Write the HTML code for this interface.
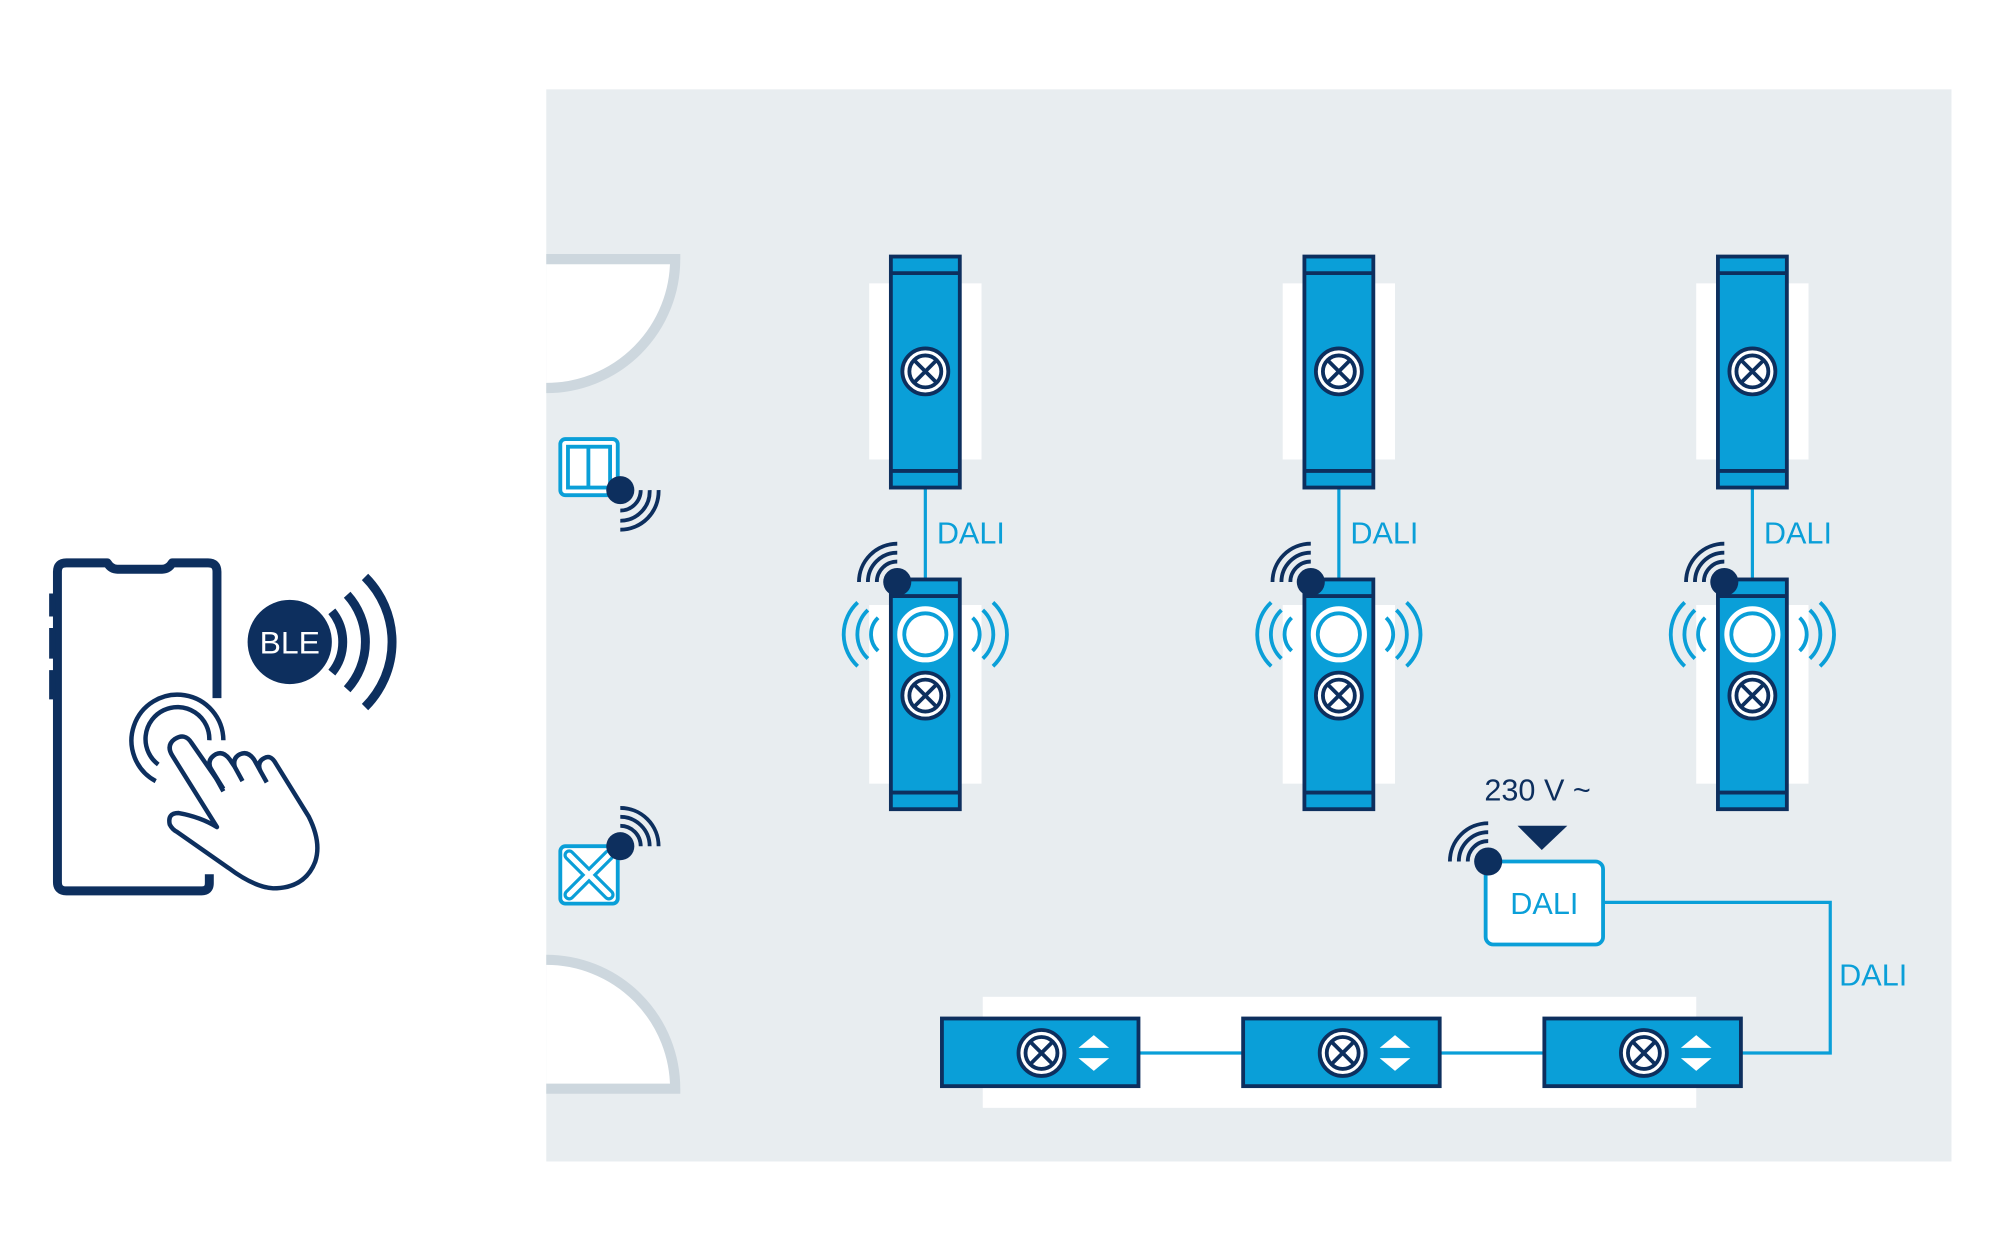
<!DOCTYPE html>
<html><head><meta charset="utf-8"><style>html,body{margin:0;padding:0;background:#fff}svg{display:block}</style></head>
<body>
<svg width="2000" height="1250" viewBox="0 0 1567 979" preserveAspectRatio="xMinYMin meet" xmlns="http://www.w3.org/2000/svg" font-family="Liberation Sans, sans-serif">
<defs>
<g id="cx"><circle r="18" fill="#fff" stroke="#0d2f5e" stroke-width="3"/><circle r="12.5" fill="none" stroke="#0d2f5e" stroke-width="3"/><path d="M-8.5,-8.5L8.5,8.5M8.5,-8.5L-8.5,8.5" stroke="#0d2f5e" stroke-width="3"/></g>
<g id="lum"><rect x="-44" y="21" width="88" height="138" fill="#fff"/><rect x="-27" y="0" width="54" height="181" fill="#0a9fd8" stroke="#0d2f5e" stroke-width="3"/><path d="M-27,13H27M-27,168H27" stroke="#0d2f5e" stroke-width="3"/><use href="#cx" x="0" y="90"/></g>
<g id="sen"><rect x="-44" y="20" width="88" height="140" fill="#fff"/><rect x="-27" y="0" width="54" height="180" fill="#0a9fd8" stroke="#0d2f5e" stroke-width="3"/><path d="M-27,13H27M-27,167H27" stroke="#0d2f5e" stroke-width="3"/>
<circle cx="0" cy="43" r="20" fill="none" stroke="#fff" stroke-width="4"/><circle cx="0" cy="43" r="15" fill="#fff"/><use href="#cx" x="0" y="91"/>
<g fill="none" stroke="#0a9fd8" stroke-width="3"><path d="M-37,30A18,18 0 0 0 -37,56M-45,24A26,26 0 0 0 -45,62M-53,18A34,34 0 0 0 -53,68"/><path d="M37,30A18,18 0 0 1 37,56M45,24A26,26 0 0 1 45,62M53,18A34,34 0 0 1 53,68"/></g>
<circle cx="-22" cy="2" r="11" fill="#0d2f5e"/><g fill="none" stroke="#0d2f5e" stroke-width="3"><path d="M-38,2A16,16 0 0 1 -22,-14M-45,2A23,23 0 0 1 -22,-21M-52,2A30,30 0 0 1 -22,-28"/></g></g>
<g id="hl"><rect x="0" y="0" width="154" height="53" fill="#0a9fd8" stroke="#0d2f5e" stroke-width="3"/><use href="#cx" x="78" y="27"/><path d="M107,23L119,13L131,23ZM107,31L131,31L119,41Z" fill="#fff"/></g>
</defs>
<rect x="428" y="70" width="1101" height="840" fill="#e8edf0"/>
<path d="M428,203H529A101,101 0 0 1 428,304Z" fill="#fff"/>
<path d="M428,203H529A101,101 0 0 1 428,304" fill="none" stroke="#cdd7de" stroke-width="8"/>
<path d="M428,752A101,101 0 0 1 529,853H428Z" fill="#fff"/>
<path d="M428,752A101,101 0 0 1 529,853H428" fill="none" stroke="#cdd7de" stroke-width="8"/>
<rect x="439" y="344" width="45" height="44" rx="4" fill="#fff" stroke="#0a9fd8" stroke-width="3"/><rect x="445" y="350" width="33" height="32" fill="none" stroke="#0a9fd8" stroke-width="3"/><path d="M461,350V382" stroke="#0a9fd8" stroke-width="3"/>
<circle cx="486" cy="384" r="11" fill="#0d2f5e"/><g fill="none" stroke="#0d2f5e" stroke-width="3"><path d="M486,400A16,16 0 0 0 502,384M486,408A23,23 0 0 0 509,384M486,415A30,30 0 0 0 516,384"/></g>
<rect x="439" y="663" width="45" height="45" rx="4" fill="#fff" stroke="#0a9fd8" stroke-width="3"/><path d="M446,670L477,701M477,670L446,701" stroke="#0a9fd8" stroke-width="9" stroke-linecap="round"/><path d="M446,670L477,701M477,670L446,701" stroke="#fff" stroke-width="4" stroke-linecap="round"/>
<circle cx="486" cy="663" r="11" fill="#0d2f5e"/><g fill="none" stroke="#0d2f5e" stroke-width="3"><path d="M486,647A16,16 0 0 1 502,663M486,640A23,23 0 0 1 509,663M486,633A30,30 0 0 1 516,663"/></g>
<g stroke="#0a9fd8" stroke-width="2.5"><path d="M725,382V454M1049,382V454M1373,382V454"/></g>
<g fill="#0a9fd8" font-size="24"><text x="734" y="426">DALI</text><text x="1058" y="426">DALI</text><text x="1382" y="426">DALI</text></g>
<use href="#lum" x="725" y="201"/><use href="#lum" x="1049" y="201"/><use href="#lum" x="1373" y="201"/>
<use href="#sen" x="725" y="454"/><use href="#sen" x="1049" y="454"/><use href="#sen" x="1373" y="454"/>
<text x="1163" y="627" font-size="24" fill="#0d2f5e">230 V ~</text>
<path d="M1189,647H1228L1208,666Z" fill="#0d2f5e"/>
<path d="M1256,707H1434V825H1365" fill="none" stroke="#0a9fd8" stroke-width="2.5"/>
<text x="1441" y="772" font-size="24" fill="#0a9fd8">DALI</text>
<rect x="1164" y="675" width="92" height="65" rx="6" fill="#fff" stroke="#0a9fd8" stroke-width="3"/>
<text x="1210" y="716" font-size="24" fill="#0a9fd8" text-anchor="middle">DALI</text>
<circle cx="1166" cy="675" r="11" fill="#0d2f5e"/><g fill="none" stroke="#0d2f5e" stroke-width="3"><path d="M1150,675A16,16 0 0 1 1166,659M1143,675A23,23 0 0 1 1166,652M1136,675A30,30 0 0 1 1166,645"/></g>
<rect x="770" y="781" width="559" height="87" fill="#fff"/>
<path d="M892,825H974M1128,825H1210" stroke="#0a9fd8" stroke-width="2.5"/>
<use href="#hl" x="738" y="798"/><use href="#hl" x="974" y="798"/><use href="#hl" x="1210" y="798"/>
<path d="M164,685V692Q164,698 158,698H52Q45,698 45,691V448Q45,441 52,441H84Q87,446 92,446H127Q132,446 135,441H163Q170,441 170,448V547" fill="none" stroke="#0d2f5e" stroke-width="7" stroke-linejoin="round"/>
<path d="M41,465V483M41,492V516M41,525V548" stroke="#0d2f5e" stroke-width="5"/>
<g fill="none" stroke="#0d2f5e" stroke-width="3.5">
<path d="M122,612A36,36 0 1 1 175,580"/>
<path d="M124,599A25,25 0 1 1 164,580"/>
</g>
<g transform="translate(4,20)">
<path d="M171,598L146,562Q141,554 133,559Q126,564 131,572L166,628Q153,620 136,617Q127,617 129,626Q131,630 135,632L175,660Q195,675 210,676Q235,676 243,655Q248,640 238,620L212,578Q208,571 203,574Q197,577 200,584L195,575Q190,568 184,571Q178,574 180,581L176,575Q171,568 165,571Q158,575 161,582L171,598" fill="#fff" stroke="#0d2f5e" stroke-width="3.5" stroke-linejoin="round"/>
<path d="M161,582L171,600M180,581L186,592M200,584L205,593" fill="none" stroke="#0d2f5e" stroke-width="3.5"/>
</g>
<circle cx="227" cy="503" r="33" fill="#0d2f5e"/>
<text x="227" y="512" font-size="25" fill="#fff" text-anchor="middle">BLE</text>
<g fill="none" stroke="#0d2f5e" stroke-width="7"><path d="M260,479A38,38 0 0 1 260,527M272,466A55,55 0 0 1 272,540M286,452A72,72 0 0 1 286,554"/></g>
</svg>
</body></html>
